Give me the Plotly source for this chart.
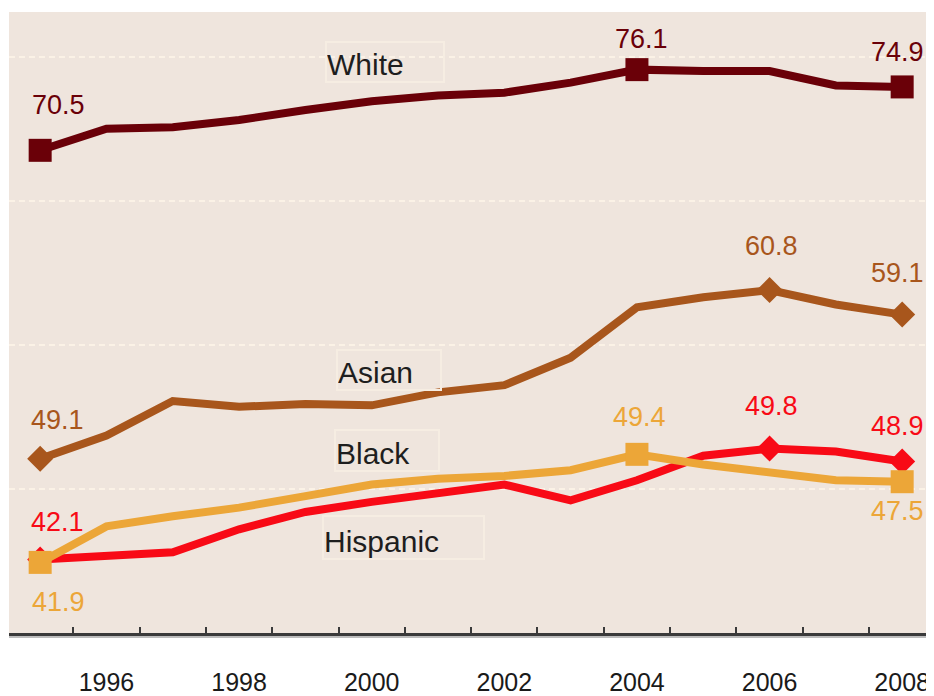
import plotly.graph_objects as go

# ---------------- data ----------------
years = list(range(1995, 2009))
white = [70.5, 72.0, 72.1, 72.6, 73.3, 73.9, 74.3, 74.5, 75.2, 76.1, 76.0, 76.0, 75.0, 74.9]
asian = [49.1, 50.7, 53.1, 52.7, 52.9, 52.8, 53.7, 54.2, 56.1, 59.6, 60.3, 60.8, 59.8, 59.1]
black = [42.1, 42.3, 42.6, 44.2, 45.4, 46.1, 46.7, 47.3, 46.2, 47.6, 49.3, 49.8, 49.6, 48.9]
hispanic = [41.9, 44.4, 45.1, 45.7, 46.5, 47.3, 47.7, 47.9, 48.3, 49.4, 48.7, 48.1, 47.6, 47.5]

tick_years = [1996, 1998, 2000, 2002, 2004, 2006, 2008]
tick_text = [str(y) for y in tick_years]
boundary_ticks = [y + 0.5 for y in years]

# labelled point indices per series
white_lbl = [0, 9, 13]
asian_lbl = [0, 11, 13]
black_lbl = [0, 11, 13]
hisp_lbl = [0, 9, 13]

# ---------------- styles ----------------
C_WHITE = "#6A0008"
C_ASIAN = "#A8561C"
C_BLACK = "#F80A16"
C_HISP = "#ECA638"
BG = "#EFE5DD"
FONT = "Liberation Sans, Arial, sans-serif"

series = [
    dict(name="White", y=white, color=C_WHITE, symbol="square", msize=23, lbl=white_lbl,
         shifts=[(18, 45), (5, 31), (-5, 35)]),
    dict(name="Asian", y=asian, color=C_ASIAN, symbol="diamond", msize=20, lbl=asian_lbl,
         shifts=[(17, 39), (2, 44), (-5, 42)]),
    dict(name="Black", y=black, color=C_BLACK, symbol="diamond", msize=20, lbl=black_lbl,
         shifts=[(17, 38), (2, 43), (-5, 36)]),
    dict(name="Hispanic", y=hispanic, color=C_HISP, symbol="square", msize=23, lbl=hisp_lbl,
         shifts=[(18, -40), (3, 37), (-5, -29)]),
]

fig = go.Figure()
annotations = []
for s in series:
    sizes = [s["msize"] if i in s["lbl"] else 0 for i in range(len(years))]
    fig.add_trace(go.Scatter(
        x=years, y=s["y"], name=s["name"], mode="lines+markers",
        line=dict(color=s["color"], width=8),
        marker=dict(symbol=s["symbol"], size=sizes, color=s["color"], opacity=1,
                    line=dict(width=0)),
        showlegend=False, hoverinfo="skip",
    ))
    for idx, (dx, dy) in zip(s["lbl"], s["shifts"]):
        annotations.append(dict(
            x=years[idx], y=s["y"][idx], xref="x", yref="y",
            text=f"{s['y'][idx]:.1f}", showarrow=False,
            xshift=dx, yshift=dy,
            font=dict(family=FONT, size=27, color=s["color"]),
        ))

# series name labels (boxed)
name_labels = [
    ("White", 2000.20, 76.66, 116, 38),
    ("Asian", 2000.26, 55.27, 102, 38),
    ("Black", 2000.23, 49.68, 102, 39),
    ("Hispanic", 2000.48, 43.63, 159, 41),
]
for txt, x, y, w, h in name_labels:
    annotations.append(dict(
        x=x, y=y, xref="x", yref="y", text=txt, showarrow=False,
        width=w, height=h, align="left", valign="bottom",
        bordercolor="#F6EDE2", borderwidth=2, borderpad=0,
        font=dict(family=FONT, size=30, color="#1E1E1E"),
    ))

# page body has an 8px margin: figure is shrunk/shifted to compensate
fig.update_layout(
    width=926, height=688,
    margin=dict(l=1, r=0, t=4, b=63),
    paper_bgcolor="white", plot_bgcolor=BG,
    annotations=annotations,
    shapes=[dict(type="rect", xref="paper", yref="paper", x0=0, x1=1,
                 yanchor=0, ysizemode="pixel", y0=-2, y1=-5,
                 fillcolor="#BDBDBD", line=dict(width=0), layer="below")],
)
fig.update_xaxes(
    range=[1994.53, 2008.48], automargin=False,
    tickmode="array", tickvals=tick_years, ticktext=tick_text, ticks="",
    ticklabelstandoff=25,
    tickfont=dict(family=FONT, size=25, color="#1A1A1A"),
    showgrid=False, zeroline=False,
    showline=True, linecolor="#3A3A3A", linewidth=3,
    minor=dict(tickmode="array", tickvals=boundary_ticks, ticks="inside",
               ticklen=6, tickwidth=2, tickcolor="#3A3A3A", showgrid=False),
)
fig.update_yaxes(
    range=[37, 80.1], tickmode="linear", tick0=37, dtick=10, automargin=False,
    showticklabels=False, ticks="",
    showgrid=True, gridcolor="#FBF2E6", gridwidth=2, griddash="6px,4px",
    zeroline=False, showline=False,
)

fig.write_html("out.html")
